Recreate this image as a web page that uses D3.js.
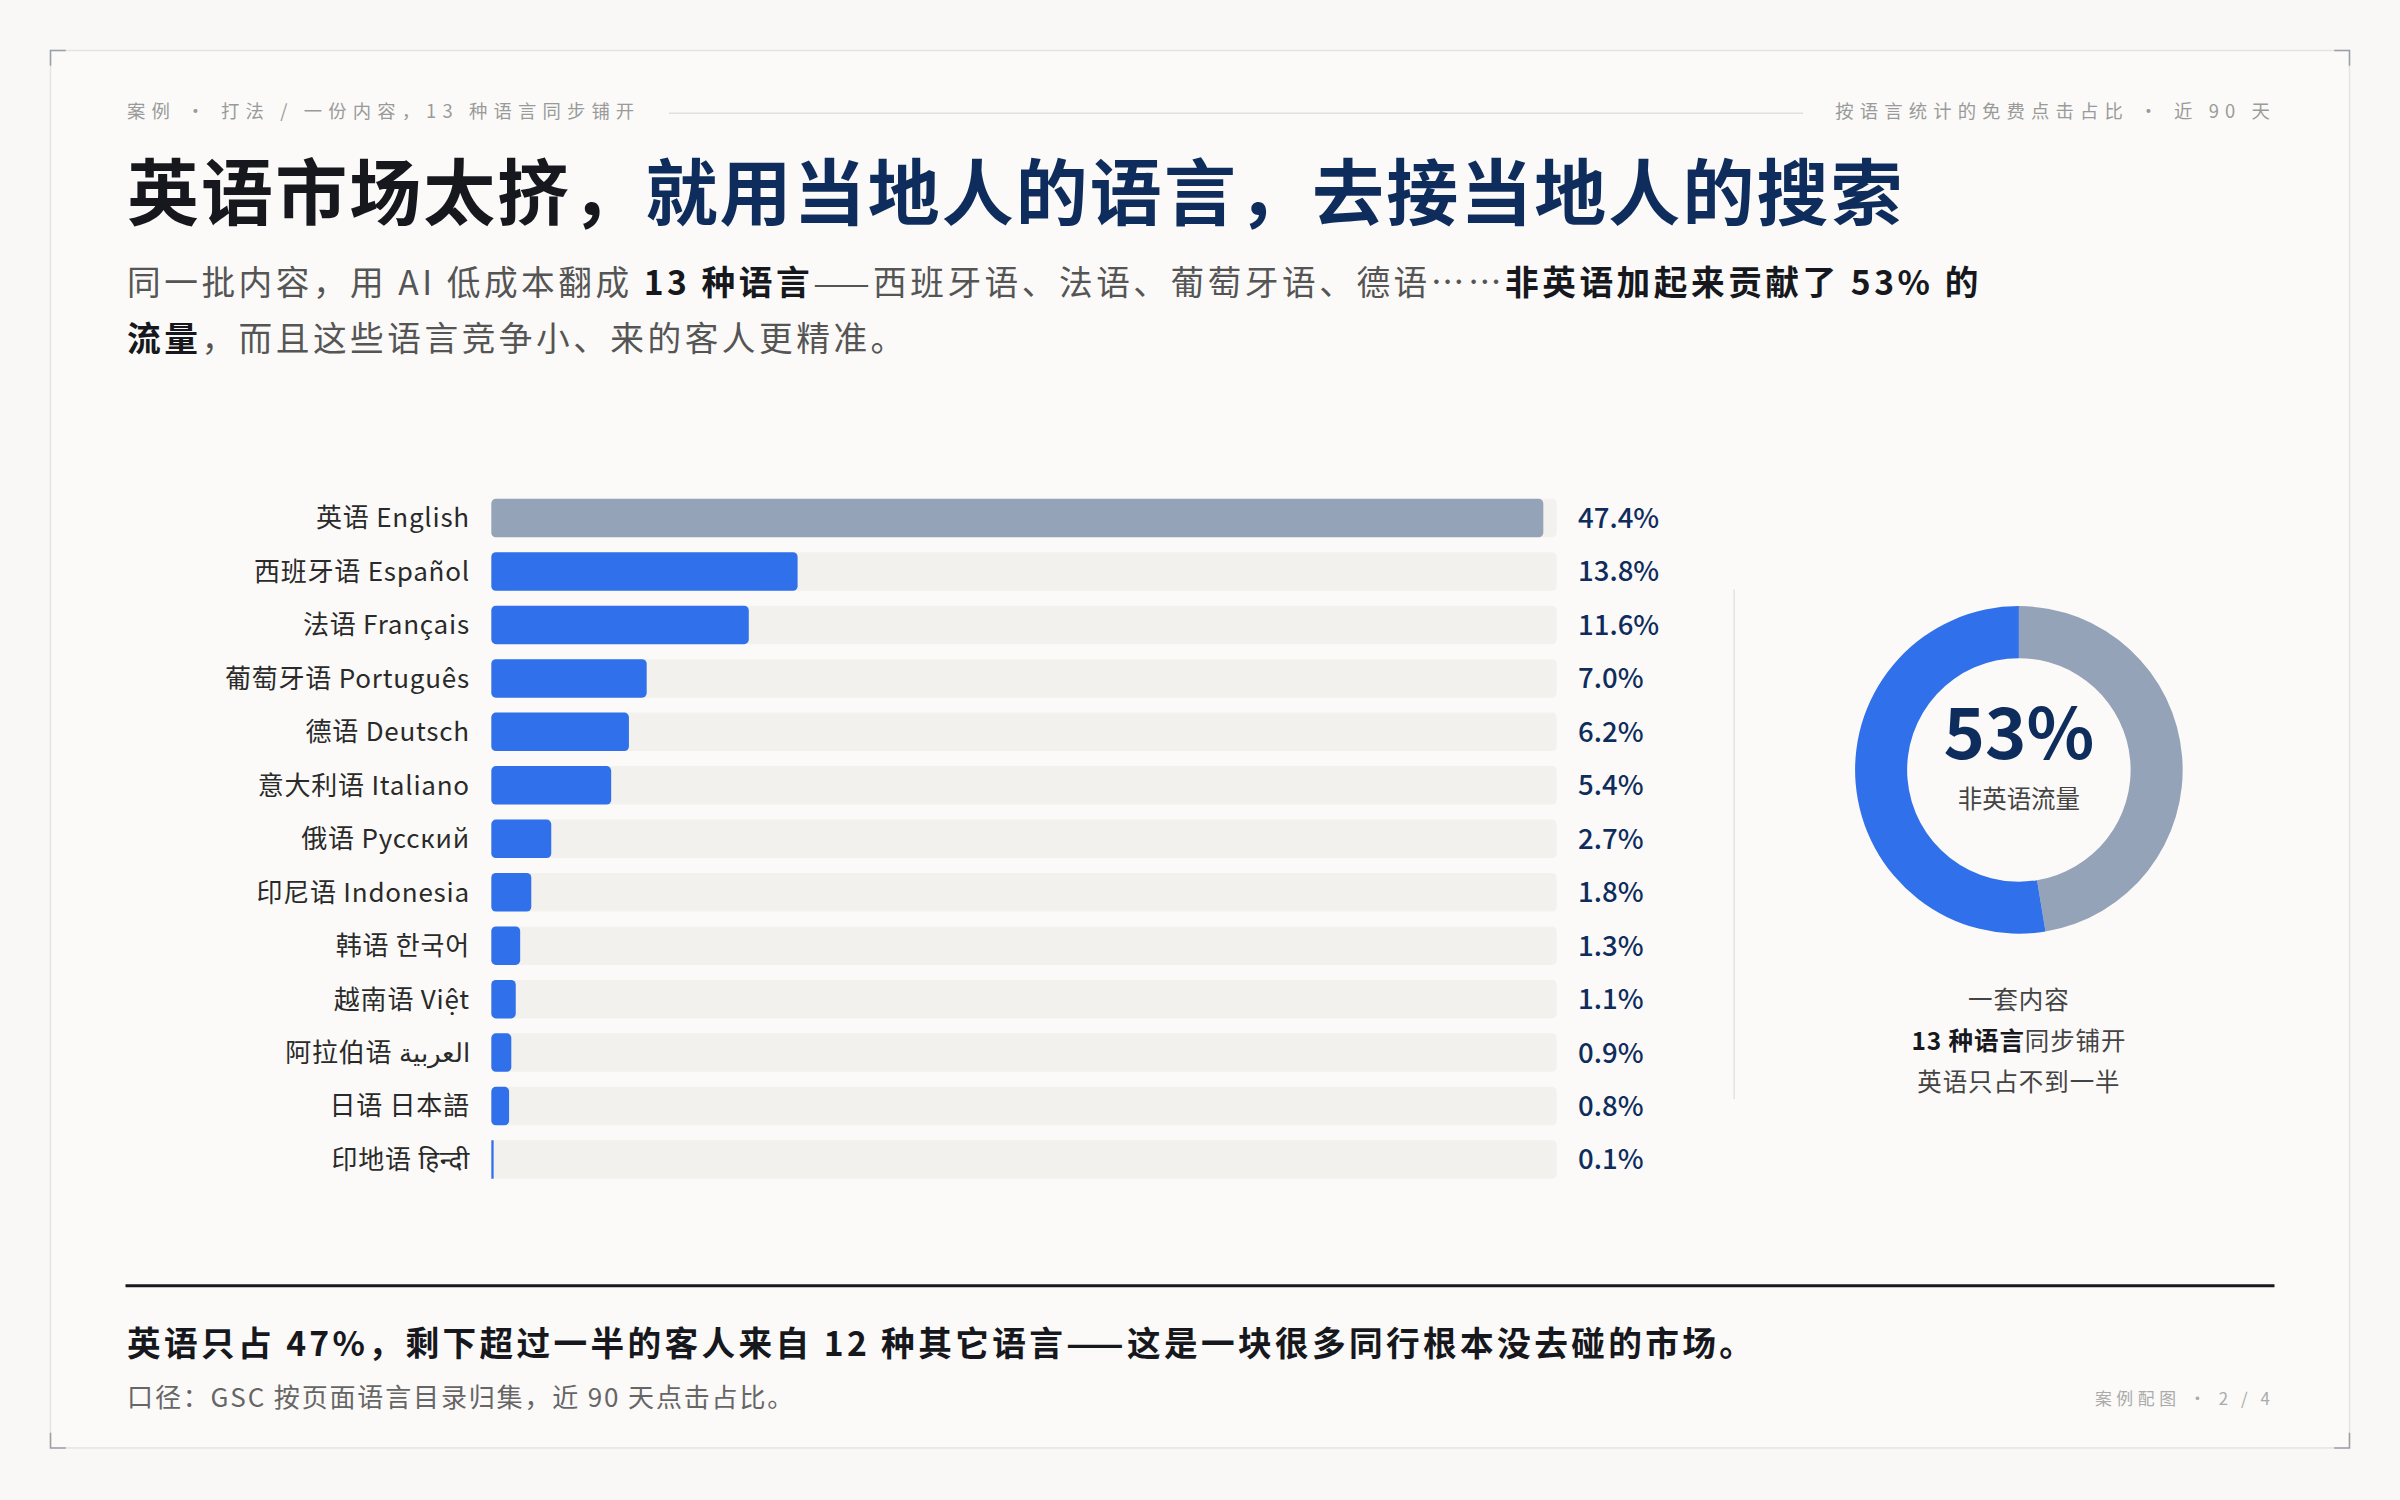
<!DOCTYPE html>
<html><head><meta charset="utf-8">
<script src="https://cdn.jsdelivr.net/npm/d3@7"></script>
<style>html,body{margin:0;background:#f9f8f6;}svg{display:block;font-family:"Noto Sans CJK SC","Noto Sans",sans-serif;}</style>
</head><body>
<svg id="c" width="2400" height="1500" viewBox="0 0 1568 980"></svg>
<script>
const languages = ["英语 English","西班牙语 Español","法语 Français","葡萄牙语 Português","德语 Deutsch","意大利语 Italiano","俄语 Русский","印尼语 Indonesia","韩语 한국어","越南语 Việt","阿拉伯语 العربية","日语 日本語","印地语 हिन्दी"];
const shares = [47.4,13.8,11.6,7.0,6.2,5.4,2.7,1.8,1.3,1.1,0.9,0.8,0.1];
const donutParts = [{k:"en",v:47.4},{k:"other",v:52.6}];

const svg = d3.select("#c");
const BLUE="#3070ea", GREY="#94a3b8", NAVY="#0f2d5c", INK="#16181d";

// frame
svg.append("rect").attr("x",33).attr("y",33).attr("width",1502).attr("height",913).attr("fill","#fbfaf8").attr("stroke","#e6e4e0");
[[33,33,1,1],[1535,33,-1,1],[33,946,1,-1],[1535,946,-1,-1]].forEach(([x,y,dx,dy])=>{
  svg.append("path").attr("d",`M${x+dx*10},${y}H${x}V${y+dy*10}`).attr("fill","none").attr("stroke","#9aa0a8").attr("stroke-width",1);
});

// header
svg.append("text").attr("x",83).attr("y",77).attr("font-size",12).attr("fill","#9a9a9a").attr("letter-spacing",4).text("案例 · 打法 / 一份内容，13 种语言同步铺开");
svg.append("line").attr("x1",437).attr("x2",1178).attr("y1",74).attr("y2",74).attr("stroke","#e2e0dc");
svg.append("text").attr("x",1487).attr("y",77).attr("text-anchor","end").attr("font-size",12).attr("fill","#9a9a9a").attr("letter-spacing",4).text("按语言统计的免费点击占比 · 近 90 天");

// title
const t = svg.append("text").attr("x",83).attr("y",143).attr("font-size",47).attr("font-weight",700).attr("letter-spacing",1.4);
t.append("tspan").attr("fill",INK).text("英语市场太挤，");
t.append("tspan").attr("fill",NAVY).text("就用当地人的语言，去接当地人的搜索");

const s1 = svg.append("text").attr("x",83).attr("y",193).attr("font-size",22).attr("fill","#555").attr("letter-spacing",2.3);
s1.append("tspan").text("同一批内容，用 AI 低成本翻成 ");
s1.append("tspan").attr("font-weight",700).attr("fill",INK).text("13 种语言");
s1.append("tspan").text("——西班牙语、法语、葡萄牙语、德语……");
s1.append("tspan").attr("font-weight",700).attr("fill",INK).text("非英语加起来贡献了 53% 的");
const s2 = svg.append("text").attr("x",83).attr("y",229).attr("font-size",22).attr("fill","#555").attr("letter-spacing",2.3);
s2.append("tspan").attr("font-weight",700).attr("fill",INK).text("流量");
s2.append("tspan").text("，而且这些语言竞争小、来的客人更精准。");

// bars
const x = d3.scaleLinear().domain([0,48]).range([321,1017]);
const y = d3.scaleBand().domain(languages).range([321,775]).paddingInner(0.28).paddingOuter(0.14);
const rows = svg.append("g").selectAll("g").data(languages).join("g");
rows.append("rect").attr("x",x(0)).attr("y",d=>y(d)).attr("width",x(48)-x(0)).attr("height",y.bandwidth()).attr("rx",3).attr("fill","#f2f1ee");
rows.append("rect").attr("x",x(0)).attr("y",d=>y(d)).attr("width",(d,i)=>Math.max(x(shares[i])-x(0),1.5)).attr("height",y.bandwidth()).attr("rx",(d,i)=>shares[i]<0.5?0:3).attr("fill",(d,i)=>i===0?GREY:BLUE);
rows.append("text").attr("x",307).attr("y",d=>y(d)+y.bandwidth()/2).attr("dy","0.36em").attr("text-anchor","end").attr("font-size",17).attr("fill","#2a2a2a").attr("letter-spacing",0.5).text(d=>d);
rows.append("text").attr("x",1031).attr("y",d=>y(d)+y.bandwidth()/2).attr("dy","0.36em").attr("font-size",18).attr("font-weight",500).attr("fill",NAVY).text((d,i)=>shares[i].toFixed(1)+"%");

svg.append("line").attr("x1",1133).attr("x2",1133).attr("y1",385).attr("y2",718).attr("stroke","#e6e4e0");

// donut
const pie = d3.pie().value(d=>d.v).sort(null);
const arc = d3.arc().innerRadius(73).outerRadius(107);
const dg = svg.append("g").attr("transform","translate(1319,503)");
dg.selectAll("path").data(pie(donutParts)).join("path").attr("d",arc).attr("fill",d=>d.data.k==="en"?GREY:BLUE);
dg.append("text").attr("y",-23).attr("text-anchor","middle").attr("font-size",46).attr("font-weight",700).attr("fill",NAVY).attr("dy","0.35em").text("53%");
dg.append("text").attr("y",25).attr("text-anchor","middle").attr("font-size",16).attr("fill","#444").text("非英语流量");

const cap = svg.append("g").attr("font-size",16).attr("fill","#444").attr("text-anchor","middle").attr("letter-spacing",0.6);
cap.append("text").attr("x",1319).attr("y",659).text("一套内容");
const c2 = cap.append("text").attr("x",1319).attr("y",686);
c2.append("tspan").attr("font-weight",700).attr("fill",INK).text("13 种语言");
c2.append("tspan").text("同步铺开");
cap.append("text").attr("x",1319).attr("y",713).text("英语只占不到一半");

// footer
svg.append("line").attr("x1",82).attr("x2",1486).attr("y1",840).attr("y2",840).attr("stroke",INK).attr("stroke-width",2);
svg.append("text").attr("x",83).attr("y",886).attr("font-size",22).attr("font-weight",700).attr("fill",INK).attr("letter-spacing",2.2).text("英语只占 47%，剩下超过一半的客人来自 12 种其它语言——这是一块很多同行根本没去碰的市场。");
svg.append("text").attr("x",83).attr("y",919).attr("font-size",17).attr("fill","#666").attr("letter-spacing",1.2).text("口径：GSC 按页面语言目录归集，近 90 天点击占比。");
svg.append("text").attr("x",1486).attr("y",918).attr("text-anchor","end").attr("font-size",11).attr("fill","#aaa").attr("letter-spacing",3).text("案例配图 · 2 / 4");
</script>
</body></html>
